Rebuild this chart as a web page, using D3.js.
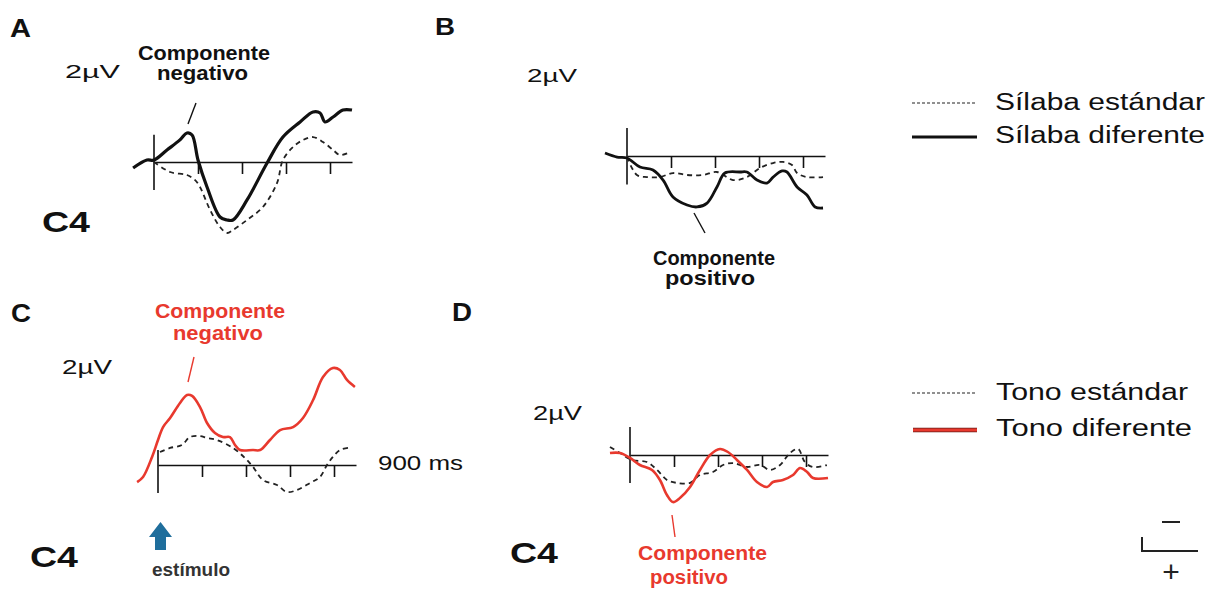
<!DOCTYPE html>
<html><head><meta charset="utf-8">
<script src="https://cdn.jsdelivr.net/npm/d3@7"></script>
<style>body{margin:0;background:#fff}svg{display:block}</style>
</head><body>
<svg id="chart" width="1219" height="589"></svg>
<script>
// ---------- DATA (time in ms, amplitude in µV, negative up) ----------
const timeTicks = [200, 400, 600, 800];
const timeDomain = [0, 900];

const silabaDiferente = [[-95,0.46],[-32,-0.15],[0,-0.15],[59,-0.92],[118,-1.7],[150,-2.23],[173,-2.08],[200,-0.15],[241,1.92],[300,4.23],[332,4.46],[359,4.46],[423,2.92],[514,0.08],[586,-1.92],[664,-3.08],[723,-3.85],[755,-3.77],[777,-3.08],[814,-3.46],[859,-4.0],[900,-4.0]];
const silabaEstandarA = [[0,0],[73,0.77],[150,1.0],[186,1.38],[209,1.92],[255,3.69],[300,5.0],[332,5.46],[359,5.23],[423,4.46],[495,3.46],[559,1.62],[586,-0.15],[632,-1.15],[677,-1.69],[723,-1.92],[768,-1.54],[814,-0.92],[845,-0.54],[882,-0.69]];

const silabaDiferenteB = [[-100,-0.23],[-45,0.08],[0,0.15],[59,0.85],[118,1.08],[164,1.85],[209,3.15],[273,3.77],[318,3.92],[364,3.62],[409,2.38],[445,1.31],[514,1.23],[545,1.23],[591,1.85],[636,2.08],[664,1.62],[705,1.15],[727,1.23],[773,2.38],[818,3.0],[855,3.92],[891,4.0]];
const silabaEstandarB = [[0,0.08],[45,1.46],[91,1.62],[150,1.62],[209,1.31],[273,1.46],[345,1.46],[409,1.23],[482,1.85],[545,1.62],[605,0.92],[664,0.54],[709,0.46],[750,0.69],[773,1.31],[818,1.62],[891,1.62]];

const tonoDiferenteC = [[-95,1.31],[-68,0.92],[-27,-0.62],[0,-1.92],[23,-2.92],[55,-3.62],[100,-4.77],[132,-5.38],[155,-5.31],[191,-4.46],[223,-3.23],[259,-2.46],[295,-2.15],[327,-2.15],[350,-1.54],[373,-1.15],[432,-1.15],[464,-1.15],[509,-1.92],[555,-2.69],[614,-2.92],[659,-3.62],[705,-5.0],[750,-6.77],[795,-7.46],[827,-7.31],[859,-6.54],[895,-6.0]];
const tonoEstandarC = [[9,-1.0],[55,-1.31],[109,-1.54],[145,-2.15],[191,-2.23],[223,-2.08],[268,-1.92],[341,-1.31],[395,-0.54],[432,0.15],[477,1.15],[541,1.54],[586,2.08],[632,1.92],[691,1.38],[736,0.92],[768,0],[795,-0.62],[827,-1.15],[864,-1.31]];

const tonoDiferenteD = [[-91,-0.15],[-45,-0.15],[0,0.23],[45,0.77],[100,1.15],[136,1.92],[168,3.08],[195,3.62],[227,3.31],[273,2.46],[318,1.15],[364,0],[409,-0.46],[445,-0.23],[486,0.38],[532,1.15],[577,2.08],[623,2.46],[650,2.08],[695,1.92],[741,1.54],[773,1.0],[805,1.31],[832,1.77],[900,1.77]];
const tonoEstandarD = [[-91,-0.62],[-45,-0.15],[9,0.38],[77,0.54],[123,1.15],[168,1.92],[214,2.15],[273,2.15],[318,1.54],[377,1.31],[423,0.77],[468,0.62],[532,0.92],[591,0.77],[636,1.15],[682,0.77],[727,-0.15],[764,-0.46],[795,0.54],[832,0.92],[895,0.77]];

const panelLetters = ["A", "B", "C", "D"];
const legendLabels1 = ["Sílaba estándar", "Sílaba diferente"];
const legendLabels2 = ["Tono estándar", "Tono diferente"];

// ---------- DRAWING ----------
const RED = "#e8392e";
const svg = d3.select("#chart");
const FONT = "'Liberation Sans', Arial, sans-serif";

function txt(s, x, y, size, opts = {}) {
  const t = svg.append("text").attr("x", x).attr("y", y)
    .attr("font-family", FONT).attr("font-size", size)
    .attr("font-weight", opts.bold ? "bold" : "normal")
    .attr("fill", opts.fill || "#111").text(s);
  if (opts.len) t.attr("textLength", opts.len).attr("lengthAdjust", "spacingAndGlyphs");
  if (opts.anchor) t.attr("text-anchor", opts.anchor);
  return t;
}

const panels = [
  {x0: 154, y0: 162, vTop: -2.1, vBot: 2.15, dif: silabaDiferente, std: silabaEstandarA, color: "#111", difW: 3.2},
  {x0: 627, y0: 156, vTop: -2.15, vBot: 2.2, dif: silabaDiferenteB, std: silabaEstandarB, color: "#111", difW: 2.8},
  {x0: 158, y0: 465, vTop: -1.15, vBot: 2.15, dif: tonoDiferenteC, std: tonoEstandarC, color: RED, difW: 2.6},
  {x0: 630, y0: 455, vTop: -2.15, vBot: 2.15, dif: tonoDiferenteD, std: tonoEstandarD, color: RED, difW: 2.6}
];

panels.forEach(p => {
  const x = d3.scaleLinear().domain(timeDomain).range([p.x0, p.x0 + 198]);
  const y = d3.scaleLinear().domain([-8, 8]).range([p.y0 - 104, p.y0 + 104]);
  const g = svg.append("g");
  const ax = d3.axisBottom(x).tickValues(timeTicks).tickSize(12).tickSizeOuter(0).tickFormat("");
  const axG = g.append("g").attr("transform", `translate(0,${p.y0})`).call(ax);
  axG.select(".domain").attr("stroke", "#111").attr("stroke-width", 1.6);
  axG.selectAll(".tick line").attr("stroke", "#111").attr("stroke-width", 1.6);
  g.append("line").attr("x1", x(0)).attr("x2", x(0)).attr("y1", y(p.vTop)).attr("y2", y(p.vBot))
    .attr("stroke", "#111").attr("stroke-width", 1.6);
  const line = d3.line().x(d => x(d[0])).y(d => y(d[1])).curve(d3.curveCatmullRom.alpha(0.5));
  g.append("path").datum(p.std).attr("d", line).attr("fill", "none")
    .attr("stroke", "#222").attr("stroke-width", 1.8).attr("stroke-dasharray", "5,4");
  g.append("path").datum(p.dif).attr("d", line).attr("fill", "none")
    .attr("stroke", p.color).attr("stroke-width", p.difW).attr("stroke-linejoin", "round");
});

// panel letters
txt(panelLetters[0], 10, 37, 25, {bold: true, len: 21});
txt(panelLetters[1], 435, 35, 24, {bold: true, len: 20});
txt(panelLetters[2], 11, 322, 25, {bold: true, len: 20});
txt(panelLetters[3], 452, 321, 25, {bold: true, len: 20});

// 2µV labels
txt("2µV", 65, 78, 19, {len: 55});
txt("2µV", 527, 82, 19, {len: 50});
txt("2µV", 62, 374, 21, {len: 50});
txt("2µV", 533, 420, 21, {len: 49});

// C4 labels
txt("C4", 42, 232, 30, {bold: true, len: 48});
txt("C4", 30, 567, 30, {bold: true, len: 48});
txt("C4", 510, 563, 30, {bold: true, len: 48});

// component annotations
txt("Componente", 138, 60, 20, {bold: true, len: 132});
txt("negativo", 157, 80, 20, {bold: true, len: 91});
svg.append("line").attr("x1", 196).attr("y1", 103).attr("x2", 188).attr("y2", 124).attr("stroke", "#111").attr("stroke-width", 1.4);

txt("Componente", 653, 265, 20, {bold: true, len: 122});
txt("positivo", 665, 285, 20, {bold: true, len: 90});
svg.append("line").attr("x1", 694).attr("y1", 213).attr("x2", 705).attr("y2", 233).attr("stroke", "#111").attr("stroke-width", 1.4);

txt("Componente", 155, 318, 20, {bold: true, len: 130, fill: RED});
txt("negativo", 173, 340, 20, {bold: true, len: 90, fill: RED});
svg.append("line").attr("x1", 194).attr("y1", 357).attr("x2", 188).attr("y2", 382).attr("stroke", RED).attr("stroke-width", 1.4);

txt("Componente", 638, 560, 20, {bold: true, len: 129, fill: RED});
txt("positivo", 650, 584, 20, {bold: true, len: 78, fill: RED});
svg.append("line").attr("x1", 672).attr("y1", 515).attr("x2", 675).attr("y2", 537).attr("stroke", RED).attr("stroke-width", 1.4);

// 900 ms
txt("900 ms", 378, 470, 21, {len: 85});

// stimulus arrow
svg.append("path").attr("d", "M160.5,522 L172,537 L166,537 L166,550 L155,550 L155,537 L149,537 Z").attr("fill", "#1f6e9c");
txt("estímulo", 152, 576, 18, {bold: true, len: 78, fill: "#333"});

// legends
function legend(labels, y1, y2, solidColor, textLens, xText) {
  svg.append("line").attr("x1", 912).attr("x2", 977).attr("y1", y1).attr("y2", y1)
    .attr("stroke", "#222").attr("stroke-width", 1.2).attr("stroke-dasharray", "3,2");
  if (solidColor === "#111") {
    svg.append("line").attr("x1", 912).attr("x2", 977).attr("y1", y2).attr("y2", y2)
      .attr("stroke", "#111").attr("stroke-width", 3.2);
  } else {
    svg.append("line").attr("x1", 913).attr("x2", 977).attr("y1", y2).attr("y2", y2)
      .attr("stroke", "#6a1a14").attr("stroke-width", 4.5);
    svg.append("line").attr("x1", 913).attr("x2", 977).attr("y1", y2).attr("y2", y2)
      .attr("stroke", RED).attr("stroke-width", 3);
  }
  txt(labels[0], xText, y1 + 7, 23, {len: textLens[0]});
  txt(labels[1], xText, y2 + 6, 23, {len: textLens[1]});
}
legend(legendLabels1, 103, 137, "#111", [210, 210], 995);
legend(legendLabels2, 393, 430, RED, [192, 196], 996);

// polarity symbol
svg.append("line").attr("x1", 1162).attr("x2", 1180).attr("y1", 522).attr("y2", 522).attr("stroke", "#222").attr("stroke-width", 2);
svg.append("path").attr("d", "M1142,537 V551 H1198").attr("fill", "none").attr("stroke", "#222").attr("stroke-width", 2);
txt("+", 1171, 582, 30, {anchor: "middle", fill: "#222"});
</script>
</body></html>
